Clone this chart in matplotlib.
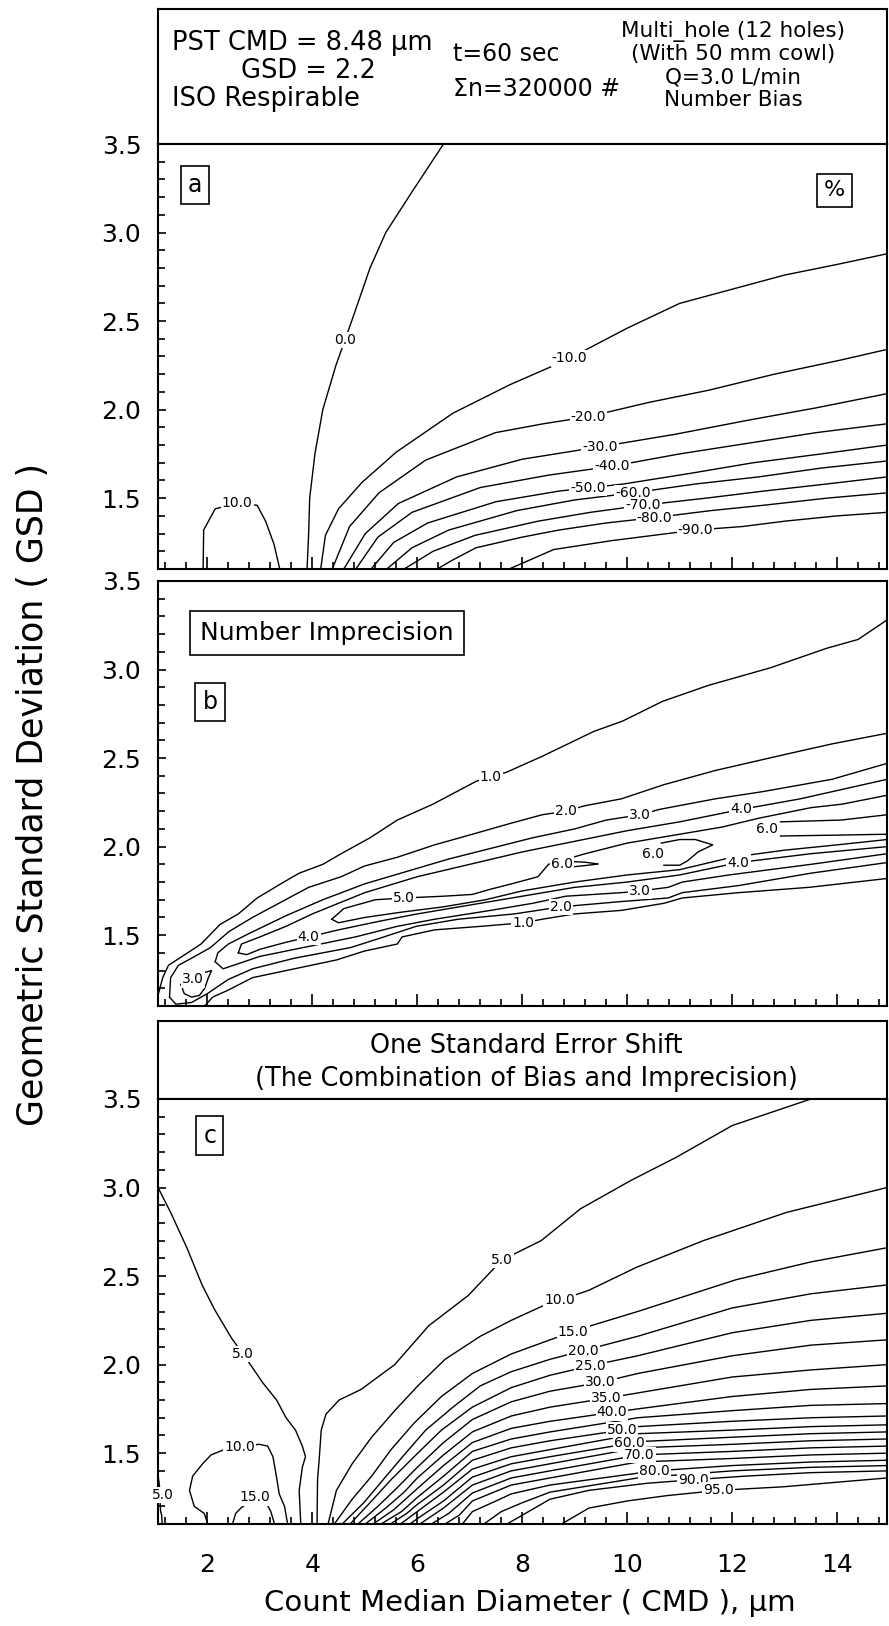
"""Three stacked contour panels: number bias, number imprecision and
one-standard-error shift over CMD and GSD."""

import numpy as np
import matplotlib

matplotlib.use("Agg")
import matplotlib.pyplot as plt
from matplotlib.ticker import MultipleLocator, FormatStrFormatter

plt.rcParams["font.family"] = ["DejaVu Sans"]

# ---------------------------------------------------------------------------
# Contour lines, as (CMD um, GSD) pairs.
# ---------------------------------------------------------------------------

# panel a: number bias, %
A_ZERO = [(3.90, 1.10), (3.93, 1.30), (3.95, 1.50), (4.05, 1.75), (4.20, 2.00), (4.45, 2.25),
          (4.75, 2.50), (5.10, 2.80), (5.40, 3.00), (5.90, 3.23), (6.50, 3.50)]
A_M10 = [(4.16, 1.10), (4.25, 1.29), (4.50, 1.44), (4.95, 1.59), (5.60, 1.76), (6.68, 1.98),
         (7.76, 2.14), (8.84, 2.28), (10.0, 2.46), (11.0, 2.60), (12.0, 2.68), (13.0, 2.76),
         (14.0, 2.82), (14.95, 2.88)]
A_M20 = [(4.38, 1.10), (4.71, 1.34), (5.27, 1.53), (6.16, 1.715), (7.49, 1.87), (8.40, 1.92),
         (9.26, 1.96), (10.4, 2.04), (11.56, 2.11), (12.8, 2.20), (14.07, 2.28), (14.95, 2.34)]
A_M30 = [(4.60, 1.10), (5.01, 1.30), (5.64, 1.47), (6.75, 1.62), (8.00, 1.72), (9.48, 1.79),
         (10.9, 1.86), (12.3, 1.94), (13.6, 2.01), (14.95, 2.09)]
A_M40 = [(4.83, 1.10), (5.25, 1.28), (5.90, 1.42), (7.20, 1.56), (8.50, 1.63), (9.71, 1.68),
         (11.0, 1.75), (12.3, 1.81), (13.6, 1.87), (14.95, 1.92)]
A_M50 = [(5.12, 1.10), (5.55, 1.25), (6.20, 1.36), (7.50, 1.48), (8.70, 1.54), (9.93, 1.58),
         (11.2, 1.64), (12.4, 1.70), (13.7, 1.75), (14.95, 1.80)]
A_M60 = [(5.42, 1.10), (5.90, 1.22), (6.60, 1.32), (7.90, 1.43), (9.00, 1.49), (10.11, 1.53),
         (11.3, 1.58), (12.5, 1.62), (13.7, 1.67), (14.95, 1.71)]
A_M70 = [(5.75, 1.10), (6.30, 1.20), (7.10, 1.29), (8.30, 1.37), (9.30, 1.42), (10.30, 1.46),
         (11.5, 1.50), (12.6, 1.54), (13.8, 1.58), (14.95, 1.62)]
A_M80 = [(6.38, 1.10), (6.67, 1.15), (7.12, 1.22), (8.00, 1.28), (8.70, 1.32), (9.60, 1.36),
         (10.52, 1.39), (11.6, 1.43), (12.6, 1.46), (13.8, 1.50), (14.95, 1.53)]
A_M90 = [(7.75, 1.10), (8.60, 1.21), (9.70, 1.26), (10.5, 1.29), (11.3, 1.32), (12.2, 1.34),
         (13.0, 1.37), (14.0, 1.40), (14.95, 1.42)]
A_TEN = [(1.92, 1.10), (1.93, 1.32), (2.15, 1.44), (2.57, 1.47), (2.95, 1.46), (3.11, 1.37),
         (3.27, 1.24), (3.38, 1.10)]

# panel b: number imprecision, % (U = upper branch, L = lower branch)
B_1U = [(1.06, 1.16), (1.15, 1.26), (1.26, 1.33), (1.52, 1.38), (1.88, 1.45), (2.24, 1.56),
        (2.59, 1.62), (2.95, 1.71), (3.40, 1.79), (3.75, 1.85), (4.20, 1.90), (4.55, 1.96),
        (5.10, 2.05), (5.62, 2.15), (6.30, 2.24), (7.13, 2.37), (7.70, 2.42), (8.38, 2.51),
        (9.36, 2.65), (9.92, 2.71), (10.67, 2.82), (11.54, 2.91), (12.73, 3.01), (13.80, 3.12),
        (14.40, 3.17), (14.95, 3.28)]
B_1L = [(1.95, 1.10), (2.10, 1.15), (2.40, 1.19), (2.86, 1.26), (3.66, 1.31), (4.46, 1.36),
        (4.99, 1.41), (5.62, 1.45), (5.71, 1.49), (6.33, 1.53), (7.22, 1.55), (8.02, 1.57),
        (8.38, 1.59), (9.00, 1.62), (9.89, 1.64), (10.70, 1.68), (11.05, 1.71), (12.12, 1.74),
        (13.46, 1.77), (14.95, 1.82)]
B_2U = [(1.28, 1.15), (1.30, 1.26), (1.45, 1.33), (1.70, 1.37), (2.06, 1.43), (2.41, 1.52),
        (2.86, 1.60), (3.30, 1.67), (3.93, 1.77), (4.55, 1.83), (4.99, 1.89), (5.62, 1.94),
        (6.33, 2.01), (7.05, 2.07), (7.76, 2.13), (8.38, 2.18), (8.83, 2.20), (9.18, 2.23),
        (9.89, 2.27), (10.70, 2.35), (11.68, 2.43), (13.00, 2.52), (13.90, 2.58), (14.95, 2.64)]
B_2L = [(1.28, 1.15), (1.40, 1.11), (1.70, 1.12), (2.00, 1.17), (2.40, 1.25), (2.86, 1.31),
        (3.66, 1.37), (4.73, 1.43), (5.26, 1.48), (5.98, 1.55), (6.78, 1.59), (7.85, 1.62),
        (8.74, 1.66), (9.89, 1.69), (10.78, 1.71), (11.05, 1.74), (12.12, 1.78), (13.50, 1.85),
        (14.95, 1.91)]
B_3U = [(2.15, 1.35), (2.20, 1.40), (2.40, 1.45), (2.80, 1.51), (3.50, 1.61), (4.20, 1.70),
        (5.00, 1.79), (5.80, 1.86), (6.60, 1.93), (7.40, 1.99), (8.20, 2.05), (9.00, 2.10),
        (9.60, 2.15), (10.25, 2.18), (10.61, 2.21), (11.68, 2.27), (12.57, 2.31), (13.90, 2.38),
        (14.95, 2.47)]
B_3L = [(2.15, 1.35), (2.30, 1.31), (2.60, 1.34), (3.00, 1.38), (3.66, 1.42), (4.82, 1.49),
        (5.62, 1.55), (6.33, 1.59), (7.40, 1.64), (8.20, 1.68), (8.83, 1.72), (9.89, 1.74),
        (10.25, 1.75), (10.78, 1.77), (11.05, 1.80), (11.94, 1.84), (13.50, 1.90), (14.95, 1.96)]
B_3I = [(1.50, 1.22), (1.56, 1.17), (1.70, 1.15), (1.85, 1.16), (1.95, 1.20), (2.02, 1.26),
        (2.08, 1.30), (1.95, 1.29), (1.75, 1.29), (1.55, 1.27), (1.50, 1.22)]
B_4U = [(2.59, 1.40), (2.65, 1.45), (3.00, 1.49), (3.50, 1.55), (4.00, 1.62), (5.00, 1.74),
        (6.00, 1.83), (7.00, 1.90), (8.00, 1.97), (9.00, 2.03), (10.00, 2.09), (11.00, 2.14),
        (12.17, 2.21), (13.30, 2.27), (14.95, 2.38)]
B_4L = [(2.59, 1.40), (2.75, 1.39), (3.00, 1.42), (3.50, 1.46), (3.93, 1.49), (4.50, 1.53),
        (5.30, 1.58), (6.00, 1.62), (7.00, 1.67), (8.00, 1.72), (9.00, 1.77), (10.00, 1.80),
        (11.00, 1.84), (12.12, 1.91), (13.50, 1.96), (14.95, 2.00)]
B_5U = [(4.37, 1.59), (4.60, 1.65), (5.20, 1.70), (5.75, 1.71), (6.50, 1.72), (7.05, 1.73),
        (7.40, 1.76), (7.80, 1.79), (8.30, 1.83), (8.50, 1.90), (9.20, 1.96), (10.00, 2.02),
        (11.00, 2.07), (11.80, 2.11), (12.50, 2.16), (13.50, 2.22), (14.10, 2.24), (14.95, 2.29)]
B_5L = [(4.37, 1.59), (4.50, 1.57), (5.00, 1.60), (5.70, 1.63), (6.50, 1.66), (7.30, 1.70),
        (8.00, 1.75), (9.00, 1.80), (10.00, 1.84), (11.00, 1.87), (12.00, 1.94), (13.00, 1.98),
        (14.00, 2.01), (14.95, 2.04)]
B_6A = [(9.00, 1.915), (9.20, 1.912), (9.45, 1.902), (9.20, 1.893), (9.00, 1.887)]
B_6B = [(10.65, 2.02), (11.00, 2.04), (11.30, 2.04), (11.63, 2.01), (11.35, 1.97), (11.15, 1.92),
        (11.00, 1.895), (10.70, 1.895)]
B_6CU = [(12.92, 2.14), (14.08, 2.15), (14.95, 2.18)]
B_6CL = [(12.92, 2.06), (14.00, 2.065), (14.95, 2.07)]

# panel c: one standard error shift, %
C_5L = [(1.06, 3.00), (1.30, 2.86), (1.61, 2.66), (1.90, 2.45), (2.14, 2.31), (2.46, 2.15),
        (2.68, 2.06), (2.89, 1.97), (3.05, 1.90), (3.32, 1.80), (3.50, 1.70), (3.68, 1.63),
        (3.81, 1.54), (3.87, 1.48), (3.81, 1.42), (3.75, 1.29), (3.78, 1.10)]
C_5S = [(1.06, 1.38), (1.09, 1.31), (1.10, 1.22), (1.11, 1.17), (1.13, 1.15), (1.14, 1.10)]
C_10B = [(2.01, 1.10), (1.94, 1.16), (1.75, 1.20), (1.66, 1.29), (1.72, 1.37), (1.91, 1.44),
         (2.07, 1.49), (2.40, 1.53), (2.99, 1.55), (3.15, 1.54), (3.25, 1.48), (3.31, 1.38),
         (3.37, 1.27), (3.47, 1.20), (3.53, 1.10)]
C_15B = [(2.48, 1.10), (2.54, 1.16), (2.64, 1.19), (2.90, 1.25), (3.12, 1.22), (3.21, 1.17),
         (3.28, 1.10)]
C_5R = [(4.09, 1.10), (4.10, 1.35), (4.13, 1.46), (4.17, 1.63), (4.26, 1.72), (4.51, 1.80),
        (4.93, 1.86), (5.57, 2.00), (6.22, 2.22), (6.97, 2.39), (7.61, 2.59), (8.36, 2.70),
        (9.11, 2.88), (10.07, 3.04), (10.93, 3.17), (12.00, 3.35), (13.50, 3.50)]
C_10 = [(4.30, 1.10), (4.46, 1.29), (4.76, 1.44), (5.13, 1.59), (5.57, 1.74), (6.01, 1.88),
        (6.53, 2.03), (7.20, 2.16), (7.79, 2.25), (8.38, 2.33), (9.27, 2.42), (10.18, 2.55),
        (11.45, 2.70), (13.04, 2.86), (14.95, 3.00)]
C_15 = [(4.42, 1.10), (4.76, 1.24), (5.13, 1.37), (5.50, 1.52), (5.94, 1.67), (6.46, 1.82),
        (7.05, 1.95), (7.79, 2.06), (8.53, 2.14), (9.20, 2.21), (10.20, 2.30), (12.08, 2.48),
        (13.50, 2.58), (14.95, 2.66)]
C_20 = [(4.57, 1.10), (4.98, 1.22), (5.35, 1.35), (5.72, 1.48), (6.16, 1.63), (6.68, 1.76),
        (7.20, 1.88), (7.79, 1.96), (8.53, 2.03), (9.30, 2.09), (10.20, 2.16), (12.00, 2.32),
        (13.50, 2.40), (14.95, 2.45)]
C_25 = [(4.72, 1.10), (5.13, 1.23), (5.50, 1.35), (5.94, 1.48), (6.46, 1.63), (7.05, 1.76),
        (7.79, 1.87), (8.53, 1.94), (9.40, 2.00), (10.20, 2.05), (12.00, 2.18), (13.50, 2.25),
        (14.95, 2.29)]
C_30 = [(4.87, 1.10), (5.25, 1.20), (5.60, 1.30), (6.00, 1.42), (6.50, 1.56), (7.05, 1.69),
        (7.79, 1.79), (8.53, 1.85), (9.50, 1.90), (10.20, 1.95), (12.00, 2.05), (13.50, 2.11),
        (14.95, 2.14)]
C_35 = [(5.01, 1.10), (5.40, 1.19), (5.75, 1.28), (6.00, 1.36), (6.50, 1.49), (7.05, 1.62),
        (7.79, 1.71), (8.53, 1.76), (9.60, 1.81), (10.20, 1.84), (12.00, 1.93), (13.50, 1.97),
        (14.95, 2.00)]
C_40 = [(5.16, 1.10), (5.55, 1.18), (6.00, 1.30), (6.50, 1.43), (7.05, 1.56), (7.79, 1.64),
        (8.53, 1.68), (9.71, 1.73), (10.20, 1.75), (12.00, 1.82), (13.50, 1.86), (14.95, 1.88)]
C_45 = [(5.31, 1.10), (5.70, 1.17), (6.00, 1.25), (6.50, 1.37), (7.05, 1.51), (7.79, 1.58),
        (8.53, 1.62), (9.80, 1.68), (10.20, 1.70), (12.00, 1.74), (13.50, 1.77), (14.95, 1.78)]
C_50 = [(5.49, 1.10), (5.80, 1.16), (6.00, 1.21), (6.50, 1.32), (7.05, 1.46), (7.79, 1.53),
        (8.53, 1.57), (9.90, 1.63), (10.20, 1.65), (12.00, 1.68), (13.50, 1.70), (14.95, 1.71)]
C_55 = [(5.68, 1.10), (6.00, 1.17), (6.50, 1.28), (7.05, 1.41), (7.79, 1.48), (8.53, 1.52),
        (10.20, 1.61), (12.00, 1.63), (13.50, 1.65), (14.95, 1.66)]
C_60 = [(5.86, 1.10), (6.00, 1.13), (6.50, 1.23), (7.05, 1.365), (7.79, 1.44), (8.53, 1.48),
        (10.04, 1.555), (10.20, 1.565), (12.00, 1.59), (13.50, 1.61), (14.95, 1.62)]
C_65 = [(6.05, 1.10), (6.50, 1.19), (7.05, 1.32), (7.79, 1.40), (8.53, 1.44), (10.20, 1.53),
        (12.00, 1.55), (13.50, 1.57), (14.95, 1.58)]
C_70 = [(6.27, 1.10), (6.60, 1.16), (7.05, 1.275), (7.79, 1.36), (8.53, 1.40), (10.23, 1.49),
        (12.00, 1.51), (13.50, 1.53), (14.95, 1.54)]
C_75 = [(6.53, 1.10), (6.80, 1.15), (7.05, 1.23), (7.79, 1.32), (8.53, 1.36), (10.20, 1.45),
        (12.00, 1.47), (13.50, 1.49), (14.95, 1.50)]
C_80 = [(6.86, 1.10), (7.05, 1.17), (7.50, 1.23), (7.79, 1.27), (8.53, 1.32), (10.52, 1.40),
        (12.00, 1.43), (13.50, 1.45), (14.95, 1.46)]
C_85 = [(7.27, 1.10), (7.60, 1.17), (8.00, 1.22), (8.53, 1.28), (10.20, 1.36), (12.00, 1.40),
        (13.50, 1.42), (14.95, 1.43)]
C_90 = [(7.71, 1.10), (8.53, 1.24), (9.27, 1.29), (10.38, 1.33), (11.26, 1.35), (12.23, 1.37),
        (13.50, 1.39), (14.95, 1.40)]
C_95 = [(8.75, 1.10), (9.27, 1.19), (10.00, 1.23), (10.75, 1.26), (11.74, 1.29), (12.97, 1.31),
        (14.95, 1.36)]

CMD_RANGE = (1.06, 14.95)
GSD_RANGE = (1.1, 3.5)

HEADER_A_LEFT = ["PST CMD = 8.48 \u03bcm", "GSD = 2.2", "ISO Respirable"]
HEADER_A_MID = ["t=60 sec", "\u03a3n=320000 #"]
HEADER_A_RIGHT = ["Multi_hole (12 holes)", "(With 50 mm cowl)", "Q=3.0 L/min", "Number Bias"]
HEADER_C = ["One Standard Error Shift", "(The Combination of Bias and Imprecision)"]

# ---------------------------------------------------------------------------
# which lines go in which panel, and where their labels sit
# (label given by CMD on the line, or by an explicit (CMD, GSD) spot)
# ---------------------------------------------------------------------------
PANEL_A = [A_ZERO, A_M10, A_M20, A_M30, A_M40, A_M50, A_M60, A_M70, A_M80, A_M90, A_TEN]
LABELS_A = [(A_ZERO, 4.62, "0.0"), (A_M10, 8.90, "-10.0"), (A_M20, 9.26, "-20.0"),
            (A_M30, 9.48, "-30.0"), (A_M40, 9.71, "-40.0"), (A_M50, 9.25, "-50.0"),
            (A_M60, 10.11, "-60.0"), (A_M70, 10.30, "-70.0"), (A_M80, 10.52, "-80.0"),
            (A_M90, 11.30, "-90.0")]
SPOTS_A = [((2.57, 1.47), "10.0")]

PANEL_B = [B_1U, B_1L, B_2U, B_2L, B_3U, B_3L, B_3I, B_4U, B_4L, B_5U, B_5L,
           B_6A, B_6B, B_6CU, B_6CL]
LABELS_B = [(B_1U, 7.40, "1.0"), (B_2U, 8.83, "2.0"), (B_3U, 10.25, "3.0"), (B_4U, 12.17, "4.0"),
            (B_1L, 8.02, "1.0"), (B_2L, 8.74, "2.0"), (B_3L, 10.25, "3.0"), (B_4L, 12.12, "4.0"),
            (B_4L, 3.93, "4.0"), (B_5U, 5.75, "5.0")]
SPOTS_B = [((1.72, 1.25), "3.0"), ((8.76, 1.90), "6.0"), ((10.50, 1.96), "6.0"),
           ((12.66, 2.10), "6.0")]

PANEL_C = [C_5L, C_5S, C_10B, C_15B, C_5R, C_10, C_15, C_20, C_25, C_30, C_35, C_40, C_45,
           C_50, C_55, C_60, C_65, C_70, C_75, C_80, C_85, C_90, C_95]
LABELS_C = [(C_5R, 7.61, "5.0"), (C_10, 8.71, "10.0"), (C_15, 8.97, "15.0"),
            (C_20, 9.16, "20.0"), (C_25, 9.30, "25.0"), (C_30, 9.49, "30.0"),
            (C_35, 9.60, "35.0"), (C_40, 9.71, "40.0"), (C_50, 9.90, "50.0"),
            (C_60, 10.04, "60.0"), (C_70, 10.23, "70.0"), (C_80, 10.52, "80.0"),
            (C_90, 11.26, "90.0"), (C_95, 11.74, "95.0")]
SPOTS_C = [((2.68, 2.06), "5.0"), ((2.61, 1.535), "10.0"), ((2.90, 1.25), "15.0"),
           ((1.15, 1.265), "5.0")]

# ---------------------------------------------------------------------------
FIG_W, FIG_H = 889, 1626
LEFT, RIGHT = 158, 887
LABEL_SIZE = 10


def px_rect(top, bottom):
    return [LEFT / FIG_W, 1 - bottom / FIG_H, (RIGHT - LEFT) / FIG_W, (bottom - top) / FIG_H]


def style_panel(ax, tick_labels_x):
    ax.set_xlim(*CMD_RANGE)
    ax.set_ylim(*GSD_RANGE)
    ax.xaxis.set_major_locator(MultipleLocator(2))
    ax.xaxis.set_minor_locator(MultipleLocator(0.4))
    ax.yaxis.set_major_locator(MultipleLocator(0.5))
    ax.yaxis.set_minor_locator(MultipleLocator(0.1))
    ax.yaxis.set_major_formatter(FormatStrFormatter("%.1f"))
    ax.tick_params(which="both", direction="in", top=False, right=False, width=1.2)
    ax.tick_params(axis="x", which="major", length=8.5, labelsize=18, pad=21,
                   labelbottom=tick_labels_x)
    ax.tick_params(axis="x", which="minor", length=5)
    ax.tick_params(axis="y", which="major", length=6, labelsize=18, pad=12)
    ax.tick_params(axis="y", which="minor", length=5)
    for spine in ax.spines.values():
        spine.set_linewidth(1.5)


def header_axes(fig, top, bottom):
    ax = fig.add_axes(px_rect(top, bottom))
    ax.set_xticks([])
    ax.set_yticks([])
    for spine in ax.spines.values():
        spine.set_linewidth(1.5)
    return ax


def draw_panel(ax, lines, labels, spots):
    for pts in lines:
        xs, gs = np.array(pts).T
        ax.plot(xs, gs, color="black", lw=1.0, solid_joinstyle="round")
    bbox = dict(boxstyle="square,pad=0.08", fc="white", ec="none")
    for pts, x, text in labels:
        xs, gs = np.array(pts).T
        ax.text(x, np.interp(x, xs, gs), text, fontsize=LABEL_SIZE, ha="center",
                va="center", bbox=bbox, zorder=5)
    for (x, g), text in spots:
        ax.text(x, g, text, fontsize=LABEL_SIZE, ha="center", va="center", bbox=bbox,
                zorder=5, clip_on=False)


def boxed_tag(ax, x, y, text, size):
    ax.text(x, y, text, transform=ax.transAxes, fontsize=size, ha="center", va="center",
            bbox=dict(boxstyle="square,pad=0.3", fc="white", ec="black", lw=1.2))


def main():
    fig = plt.figure(figsize=(FIG_W / 100, FIG_H / 100), dpi=100)

    # header above panel a
    head_a = header_axes(fig, 9, 144)
    head_a.text(0.019, 0.748, HEADER_A_LEFT[0], fontsize=18.5, ha="left", va="center")
    head_a.text(0.207, 0.541, HEADER_A_LEFT[1], fontsize=18.5, ha="center", va="center")
    head_a.text(0.019, 0.333, HEADER_A_LEFT[2], fontsize=18.5, ha="left", va="center")
    head_a.text(0.405, 0.667, HEADER_A_MID[0], fontsize=17, ha="left", va="center")
    head_a.text(0.405, 0.407, HEADER_A_MID[1], fontsize=17, ha="left", va="center")
    for line, y in zip(HEADER_A_RIGHT, [0.83, 0.667, 0.496, 0.326]):
        head_a.text(0.789, y, line, fontsize=15.5, ha="center", va="center")

    ax_a = fig.add_axes(px_rect(144, 569))
    style_panel(ax_a, False)
    draw_panel(ax_a, PANEL_A, LABELS_A, SPOTS_A)
    boxed_tag(ax_a, 0.051, 0.904, "a", 17)
    boxed_tag(ax_a, 0.928, 0.891, "%", 16)

    ax_b = fig.add_axes(px_rect(581, 1006))
    style_panel(ax_b, False)
    draw_panel(ax_b, PANEL_B, LABELS_B, SPOTS_B)
    boxed_tag(ax_b, 0.0713, 0.715, "b", 17)
    ax_b.text(0.232, 0.8765, "Number Imprecision", transform=ax_b.transAxes, fontsize=18,
              ha="center", va="center",
              bbox=dict(boxstyle="square,pad=0.4", fc="white", ec="black", lw=1.2))

    # header above panel c
    head_c = header_axes(fig, 1021, 1099)
    head_c.text(0.505, 0.68, HEADER_C[0], fontsize=18.4, ha="center", va="center")
    head_c.text(0.505, 0.256, HEADER_C[1], fontsize=18.4, ha="center", va="center")

    ax_c = fig.add_axes(px_rect(1099, 1524))
    style_panel(ax_c, True)
    draw_panel(ax_c, PANEL_C, LABELS_C, SPOTS_C)
    boxed_tag(ax_c, 0.071, 0.914, "c", 17)

    fig.text(33 / FIG_W, 1 - 795 / FIG_H, "Geometric Standard Deviation ( GSD )",
             rotation=90, fontsize=25, ha="center", va="center")
    fig.text(530 / FIG_W, 1 - 1603 / FIG_H, "Count Median Diameter ( CMD ), \u03bcm",
             fontsize=21, ha="center", va="center")

    fig.savefig("out.png", dpi=100)
    plt.close(fig)


if __name__ == "__main__":
    main()
